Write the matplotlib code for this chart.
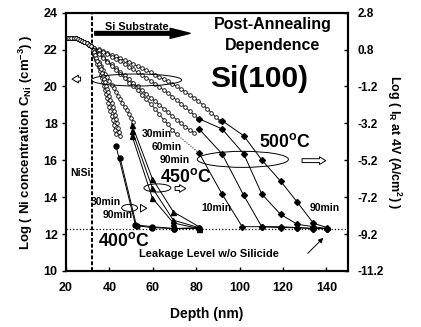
import matplotlib
matplotlib.use("Agg")
import matplotlib.pyplot as plt
from matplotlib.patches import Ellipse

plt.rcParams['font.family'] = ['Liberation Sans', 'DejaVu Sans']
plt.rcParams['font.weight'] = 'bold'
plt.rcParams['axes.labelweight'] = 'bold'
plt.rcParams['mathtext.fontset'] = 'custom'
plt.rcParams['mathtext.rm'] = 'Liberation Sans:bold'
plt.rcParams['mathtext.bf'] = 'Liberation Sans:bold'
plt.rcParams['mathtext.it'] = 'Liberation Sans:bold'
plt.rcParams['mathtext.default'] = 'bf'

# ---- SIMS profiles (left axis, log Ni concentration) ----
head_x = [20.5, 21.5, 22.5, 23.5, 24.5, 25.5, 26.5, 27.5, 28.5, 29.5, 30.5, 31.5]
head_y = [22.65, 22.65, 22.65, 22.63, 22.6, 22.57, 22.52, 22.46, 22.4, 22.33, 22.25, 22.17]

sims1_x = [33, 35, 37, 39, 41, 43, 45, 47, 49, 51, 53, 55, 57, 59, 61, 63, 65, 67, 69, 71,
           73, 75, 77, 79, 81, 83, 85, 87, 89, 91]
sims1_y = [22.10, 22.01, 21.92, 21.82, 21.73, 21.63, 21.53, 21.42, 21.32, 21.21, 21.10, 20.99,
           20.88, 20.76, 20.64, 20.52, 20.40, 20.27, 20.14, 20.00, 19.86, 19.71, 19.55, 19.38,
           19.20, 19.01, 18.80, 18.58, 18.35, 18.15]
sims2_x = [33, 35, 37, 39, 41, 43, 45, 47, 49, 51, 53, 55, 57, 59, 61, 63, 65, 67, 69, 71,
           73, 75, 77, 79, 81]
sims2_y = [22.08, 21.97, 21.86, 21.74, 21.62, 21.49, 21.36, 21.22, 21.08, 20.93, 20.78, 20.63,
           20.47, 20.31, 20.15, 19.98, 19.81, 19.63, 19.45, 19.26, 19.07, 18.87, 18.67, 18.46,
           18.25]
sims3_x = [33, 35, 37, 39, 41, 43, 45, 47, 49, 51, 53, 55, 57, 59, 61, 63, 65, 67, 69, 71,
           73, 75, 77, 79]
sims3_y = [22.0, 21.8, 21.6, 21.4, 21.2, 21.0, 20.8, 20.6, 20.4, 20.2, 20.0, 19.8, 19.6, 19.4,
           19.2, 19.0, 18.8, 18.6, 18.4, 18.2, 18.0, 17.8, 17.65, 17.5]
sims4_x = [33, 35, 37, 39, 41, 43, 45, 47, 49, 51, 53, 55, 57, 59, 61, 63, 65, 67, 69, 71]
sims4_y = [21.95, 21.75, 21.55, 21.35, 21.1, 20.9, 20.65, 20.45, 20.2, 20.0, 19.8, 19.55, 19.3,
           19.05, 18.8, 18.5, 18.2, 17.95, 17.65, 17.4]
sims5_x = [33, 34, 35, 36, 37, 38, 39, 40, 41, 42, 43, 44, 45, 46, 47, 48, 49, 50, 51]
sims5_y = [21.7, 21.5, 21.3, 21.1, 20.9, 20.7, 20.5, 20.3, 20.1, 19.9, 19.7, 19.5, 19.3, 19.1,
           18.9, 18.7, 18.5, 18.3, 18.1]
sims6_x = [32.5, 33, 33.5, 34, 34.5, 35, 35.5, 36, 36.5, 37, 37.5, 38, 38.5, 39, 39.5, 40,
           40.5, 41, 41.5, 42, 42.5, 43]
sims6_y = [21.95, 21.78, 21.6, 21.42, 21.23, 21.04, 20.84, 20.64, 20.44, 20.23, 20.02, 19.8,
           19.58, 19.36, 19.13, 18.9, 18.66, 18.42, 18.17, 17.92, 17.66, 17.4]
sims7_x = [33, 33.5, 34, 34.5, 35, 35.5, 36, 36.5, 37, 37.5, 38, 38.5, 39, 39.5, 40, 40.5,
           41, 41.5, 42, 42.5, 43, 43.5, 44, 44.5, 45]
sims7_y = [21.85, 21.7, 21.55, 21.4, 21.24, 21.08, 20.92, 20.75, 20.58, 20.41, 20.23, 20.05,
           19.87, 19.68, 19.49, 19.29, 19.09, 18.88, 18.67, 18.45, 18.23, 18.0, 17.77, 17.53,
           17.29]

# ---- leakage current (right axis, log IR at 4V) ----
d500_90_x = [91.9, 101.9, 110.2, 118.9, 126.6, 134.0, 140.4]
d500_90_y = [-3.05, -3.87, -5.18, -6.33, -7.47, -8.61, -8.85]
d500_60_x = [81.3, 91.9, 101.9, 110.2, 118.9, 126.6, 134.0, 140.4]
d500_60_y = [-2.95, -3.5, -4.85, -7.03, -8.13, -8.67, -8.8, -8.9]
d500_30_x = [81.3, 91.9, 101.9, 110.2, 118.9, 126.6, 134.0, 140.4]
d500_30_y = [-3.5, -4.85, -7.1, -8.8, -8.8, -8.85, -8.9, -8.9]
d500_10_x = [81.3, 91.9, 101.2, 110.2, 118.9, 126.6, 134.0, 140.4]
d500_10_y = [-4.8, -7.03, -8.8, -8.8, -8.85, -8.85, -8.9, -8.9]

t450_x = [50.5, 59.8, 69.5, 81.3]
t450_30_y = [-3.3, -6.2, -8.0, -8.8]
t450_60_y = [-3.6, -6.7, -8.45, -8.85]
t450_90_y = [-3.9, -7.25, -8.6, -8.9]

c400_30_x = [43.0, 52.0, 59.8, 69.9, 81.3]
c400_30_y = [-4.4, -8.7, -8.8, -8.9, -8.85]
c400_90_x = [45.0, 52.5, 59.8, 69.9, 81.3]
c400_90_y = [-5.1, -8.75, -8.85, -8.9, -8.9]

x_ticks = [20, 40, 60, 80, 100, 120, 140]
y_ticks = [10, 12, 14, 16, 18, 20, 22, 24]
y2_ticks = [2.8, 0.8, -1.2, -3.2, -5.2, -7.2, -9.2, -11.2]

fig = plt.figure(figsize=(4.21, 3.27), dpi=100)
ax = fig.add_axes([0.1568, 0.1713, 0.67, 0.79])
ax2 = ax.twinx()

sims = [(sims1_x, sims1_y), (sims2_x, sims2_y), (sims3_x, sims3_y), (sims4_x, sims4_y),
        (sims5_x, sims5_y), (sims6_x, sims6_y), (sims7_x, sims7_y)]
for sx, sy in sims:
    ax.plot(head_x + sx, head_y + sy, '-', color='black', lw=0.6, marker='o', ms=2.6,
            mfc='white', mec='black', mew=0.6, zorder=3)
ax.plot([sims4_x[-1], d500_10_x[0]], [sims4_y[-1], d500_10_y[0] + 21.2], ':', color='black', lw=0.7)

for dx, dy in [(d500_90_x, d500_90_y), (d500_60_x, d500_60_y), (d500_30_x, d500_30_y),
               (d500_10_x, d500_10_y)]:
    ax2.plot(dx, dy, '-', color='black', lw=0.7, marker='D', ms=3)
for ty in [t450_30_y, t450_60_y, t450_90_y]:
    ax2.plot(t450_x, ty, '-', color='black', lw=0.7, marker='^', ms=3.6)
ax2.plot(c400_30_x, c400_30_y, '-', color='black', lw=0.7, marker='o', ms=3.6)
ax2.plot(c400_90_x, c400_90_y, '-', color='black', lw=0.7, marker='o', ms=3.6)

# reference lines
ax.axvline(32, color='black', lw=1.4, ls=(0, (2, 1)))
ax.axhline(12.25, color='black', lw=0.9, ls=':')

# ellipses + arrows
for (cx, cy, w, h) in [(52.5, 20.35, 41.6, 0.65), (101.5, 16.05, 42, 0.87),
                       (62.1, 14.5, 12.4, 0.44), (49.3, 13.42, 7.3, 0.38)]:
    ax.add_patch(Ellipse((cx, cy), w, h, fill=False, ec='black', lw=0.7, zorder=4))
hollow = dict(arrowstyle='simple,head_width=0.55,head_length=0.45,tail_width=0.28',
              fc='white', ec='black', lw=0.7, mutation_scale=10)
ax.annotate('', xy=(21.5, 20.4), xytext=(28, 20.4), arrowprops=hollow)
ax.annotate('', xy=(141, 15.98), xytext=(127.5, 15.98), arrowprops=hollow)
ax.annotate('', xy=(76.5, 14.47), xytext=(69, 14.47), arrowprops=hollow)
ax.annotate('', xy=(58.5, 13.4), xytext=(53.7, 13.4), arrowprops=hollow)

ax.annotate('', xy=(78.5, 22.88), xytext=(32, 22.88),
            arrowprops=dict(arrowstyle='simple,head_width=0.6,head_length=1.2,tail_width=0.22',
                            fc='black', ec='black', mutation_scale=12))
ax.annotate('', xy=(139.5, 11.9), xytext=(130.5, 10.85),
            arrowprops=dict(arrowstyle='-|>', color='black', lw=0.7, mutation_scale=7))

# text
ax.text(52.7, 23.22, "Si Substrate", fontsize=7.8, ha='center', va='center')
ax.text(115.2, 23.38, "Post-Annealing", fontsize=11.5, ha='center', va='center')
ax.text(115.0, 22.24, "Dependence", fontsize=11.5, ha='center', va='center')
ax.text(109.2, 20.38, "Si(100)", fontsize=21.5, ha='center', va='center')
ax.text(120.7, 16.98, r"500$^{\mathrm{o}}$C", fontsize=12.7, ha='center', va='center')
ax.text(75.4, 15.07, r"450$^{\mathrm{o}}$C", fontsize=12.7, ha='center', va='center')
ax.text(46.5, 11.6, r"400$^{\mathrm{o}}$C", fontsize=12.7, ha='center', va='center')
ax.text(61.9, 17.42, "30min", fontsize=7.5, ha='center', va='center')
ax.text(66.2, 16.71, "60min", fontsize=7.5, ha='center', va='center')
ax.text(70.3, 16.03, "90min", fontsize=7.5, ha='center', va='center')
ax.text(26.9, 15.3, "NiSi", fontsize=7.5, ha='center', va='center')
ax.text(38.5, 13.74, "30min", fontsize=7.5, ha='center', va='center')
ax.text(44.0, 13.03, "90min", fontsize=7.5, ha='center', va='center')
ax.text(89.1, 13.44, "10min", fontsize=7.5, ha='center', va='center')
ax.text(139.0, 13.44, "90min", fontsize=7.5, ha='center', va='center')
ax.text(85.9, 10.93, "Leakage Level w/o Silicide", fontsize=8, ha='center', va='center')

# axes
ax.set_xlim(20, 150)
ax.set_ylim(10, 24)
ax2.set_ylim(-11.2, 2.8)
ax.set_xticks(x_ticks)
ax.set_yticks(y_ticks)
ax2.set_yticks(y2_ticks)
ax2.set_yticklabels([f"{v:.1f}" for v in y2_ticks])
ax.tick_params(axis='x', direction='in', length=3, width=1, labelsize=9, pad=8)
ax.tick_params(axis='y', direction='out', length=3, width=1, labelsize=9, pad=3)
ax2.tick_params(axis='y', direction='in', length=3, width=1, labelsize=8.5, pad=7)
for a in (ax, ax2):
    for s in a.spines.values():
        s.set_linewidth(1.5)
ax.set_xlabel("Depth (nm)", fontsize=10, labelpad=9)
ax.set_ylabel(r"Log ( Ni concentration C$_{Ni}$ (cm$^{-3}$) )", fontsize=9.5, labelpad=6)
ax2.set_ylabel(r"Log ( I$_R$ at 4V (A/cm$^2$) )", fontsize=9, rotation=270, labelpad=14)

fig.savefig("out.png", dpi=100)
